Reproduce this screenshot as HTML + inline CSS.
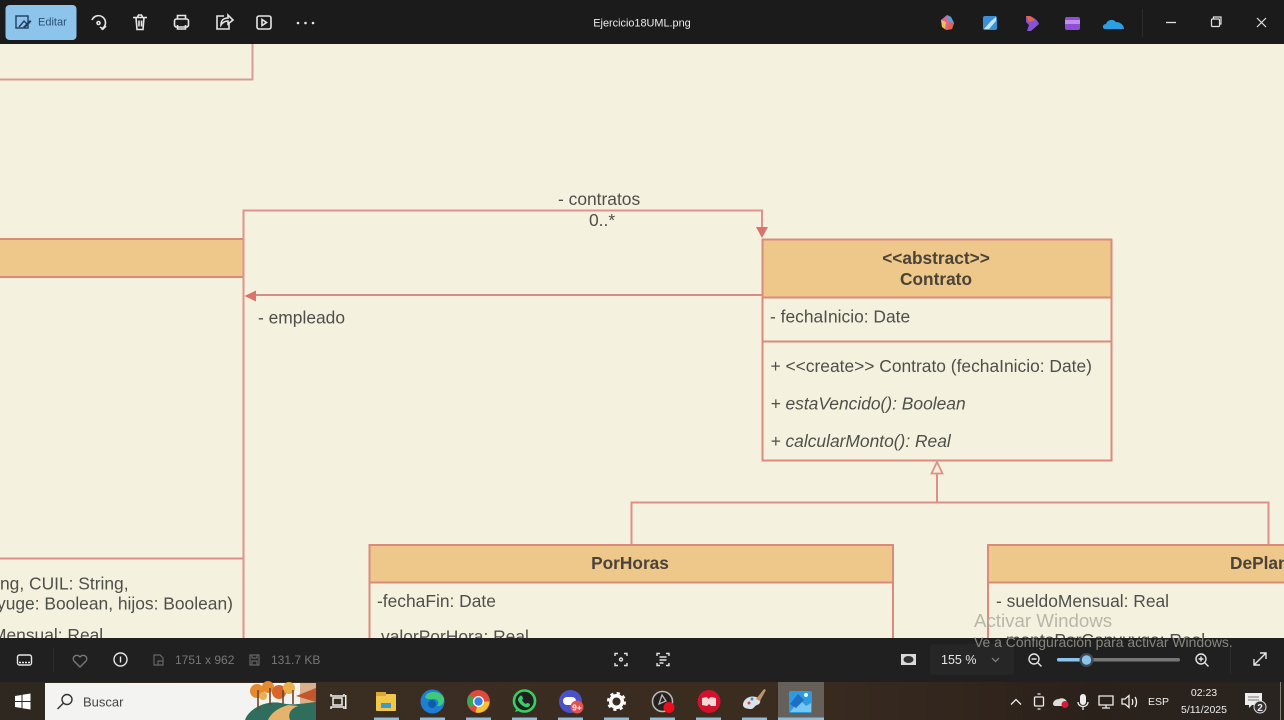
<!DOCTYPE html>
<html lang="es">
<head>
<meta charset="utf-8">
<title>Ejercicio18UML.png</title>
<style>
html,body{margin:0;padding:0;width:1284px;height:720px;overflow:hidden;background:#f4f2df}
svg{display:block;filter:blur(.3px)}
text{font-family:"Liberation Sans",sans-serif}
</style>
</head>
<body>
<svg width="1284" height="720" viewBox="0 0 1284 720" xmlns="http://www.w3.org/2000/svg">
<defs>
<linearGradient id="task" x1="0" x2="1" y1="0" y2="0">
<stop offset="0" stop-color="#2e2820"/><stop offset=".25" stop-color="#3a2d22"/><stop offset=".6" stop-color="#3b2c20"/><stop offset=".85" stop-color="#2b211b"/><stop offset="1" stop-color="#2a2420"/>
</linearGradient>
</defs>

<!-- canvas -->
<rect width="1284" height="720" fill="#f4f2df"/>

<!-- top-left class fragment -->
<path d="M0 79.500H252.500V44" fill="none" stroke="#dd9a92" stroke-width="2"/>

<!-- left class -->
<rect x="0" y="239" width="243.500" height="38" fill="#eec78b"/>
<path d="M0 239H243.500V277H0" fill="none" stroke="#dc8a76" stroke-width="2"/>
<path d="M0 558.500H243.500" fill="none" stroke="#e08f8a" stroke-width="2"/>

<!-- association connectors -->
<path d="M243.500 277V210.500H762V230" fill="none" stroke="#e2928c" stroke-width="2"/>
<path d="M243.500 277V638" fill="none" stroke="#e2928c" stroke-width="2"/>
<path d="M762 295H254" fill="none" stroke="#dc8a84" stroke-width="2"/>
<path d="M756 227H768L762 238Z" fill="#d9736c"/>
<path d="M244.500 296L256 290.500V301.500Z" fill="#d9736c"/>

<!-- Contrato -->
<rect x="762.500" y="239.500" width="349" height="221" fill="#f4f2df" stroke="#db8a7c" stroke-width="2"/>
<rect x="763.500" y="240.500" width="347" height="57" fill="#eec78b"/>
<path d="M762.500 297.500H1111.500M762.500 341.500H1111.500" stroke="#dc8a78" stroke-width="2" fill="none"/>

<!-- generalization -->
<path d="M937 474V502.500M631.500 545V502.500H1268.500V545" fill="none" stroke="#df8f88" stroke-width="2"/>
<path d="M937 462L942.500 473.500H931.500Z" fill="#f4f2df" stroke="#df8f88" stroke-width="1.800"/>

<!-- PorHoras -->
<rect x="369.500" y="545" width="523.500" height="100" fill="#f4f2df" stroke="#dc8a7c" stroke-width="2"/>
<rect x="370.500" y="546" width="521.500" height="36" fill="#eec78b"/>
<path d="M369.500 582.500H893" stroke="#dc8a78" stroke-width="2"/>

<!-- DePlanta -->
<rect x="988" y="545" width="310" height="100" fill="#f4f2df" stroke="#dc8a7c" stroke-width="2"/>
<rect x="989" y="546" width="295" height="36" fill="#eec78b"/>
<path d="M988 582.500H1284" stroke="#dc8a78" stroke-width="2"/>

<!-- diagram text -->
<g font-size="17.400" fill="#4f4f4a">
<text x="558" y="205">- contratos</text>
<text x="589" y="226">0..*</text>
<text x="258" y="323.500">- empleado</text>
<text x="770" y="322.500">- fechaInicio: Date</text>
<text x="770.500" y="372">+ &lt;&lt;create&gt;&gt; Contrato (fechaInicio: Date)</text>
<text x="770.500" y="409.500" font-style="italic">+ estaVencido(): Boolean</text>
<text x="770.500" y="447" font-style="italic">+ calcularMonto(): Real</text>
<text x="0" y="589.500">ng, CUIL: String,</text>
<text x="-3" y="609.500">yuge: Boolean, hijos: Boolean)</text>
<text x="-8" y="641">Mensual: Real</text>
<text x="377" y="607">-fechaFin: Date</text>
<text x="381" y="642.500">valorPorHora: Real</text>
<text x="996" y="607">- sueldoMensual: Real</text>
<text x="1006" y="646">montoPorConyuyge: Real</text>
</g>
<g font-size="17.300" fill="#4a4338" text-anchor="middle" font-weight="bold">
<text x="936" y="264">&lt;&lt;abstract&gt;&gt;</text>
<text x="936" y="285">Contrato</text>
<text x="630" y="569">PorHoras</text>
<text x="1230" y="569" text-anchor="start">DePlanta</text>
</g>

<!-- top bar -->
<rect width="1284" height="44" fill="#1b1b1b"/>
<rect x="5.500" y="5" width="71" height="35" rx="4" fill="#8cc4ec"/>
<g fill="none" stroke="#1f3f5f" stroke-width="1.400">
<rect x="16" y="16" width="12" height="12"/>
<path d="M19 27l5-6 4 4"/>
</g>
<path d="M23 27l7-7 1.500 1.500-7 7z" fill="#1f3f5f"/>
<text x="38" y="25.500" font-size="11" fill="#29516f">Editar</text>
<g fill="none" stroke="#e6e6e6" stroke-width="1.600">
<path d="M92 20a7 7 0 1 1 11 8l-1 2M106 26l-3 3-3-2"/>
<circle cx="98.500" cy="23" r="1.500"/>
<path d="M133 17.500H147M136 17.500l1 12h6l1-12M137.500 17l1-2h3l1 2M139 20.500v6M141.500 20.500v6"/>
<rect x="174.500" y="19" width="14" height="8" rx="2"/>
<path d="M177.500 19v-3.500h8V19M177.500 25v4h8v-4"/>
<path d="M224 16h-7v13h12v-6M221 25c0-5 3-7 7-7v-3l5 5-5 4v-3c-3 0-5 1-7 4z"/>
<rect x="257" y="16" width="14" height="13" rx="2"/>
<path d="M262 19.500l4.500 3-4.500 3z"/>
</g>
<g fill="#e6e6e6"><circle cx="298" cy="23" r="1.300"/><circle cx="305.500" cy="23" r="1.300"/><circle cx="313" cy="23" r="1.300"/></g>
<text x="642" y="26.500" font-size="10.900" fill="#ececec" text-anchor="middle">Ejercicio18UML.png</text>

<!-- top right app icons -->
<path d="M941 20l6-5 4 2 3 6-2 6-6 1-4-3z" fill="#d9679b"/>
<path d="M947 15l4 2 3 6-5-1z" fill="#4aa6dd"/><path d="M941 20l5 2-1 7-3-2z" fill="#e9c34a"/><path d="M949 22l5 1-2 6-5 1z" fill="#e5634c"/>
<rect x="983" y="16" width="14" height="14" rx="2" fill="#3a8fd8"/><path d="M984 29l7-8 5-4v4l-7 8z" fill="#bfe6f8"/>
<path d="M1026 16h4c5 2 8 5 9 8l-8 7h-4l2-6-3-3z" fill="#8653d8"/><path d="M1026 16h4l5 4-6 2z" fill="#e8663f"/>
<rect x="1065" y="17" width="15" height="13" rx="2" fill="#8c4fd6"/><rect x="1065" y="20" width="15" height="4" fill="#c18ef0"/>
<path d="M1105 29c-3 0-3-5 1-5 1-4 7-6 10-2 4 0 8 3 8 7z" fill="#2a9fe3"/>
<rect x="1142" y="9" width="1" height="28" fill="#2a2a2a"/>
<path d="M1166 22.500h10" stroke="#e2e2e2" stroke-width="1.300"/>
<g fill="none" stroke="#e2e2e2" stroke-width="1.200">
<rect x="1211.500" y="19" width="8" height="7.500" rx="1"/><path d="M1213.500 19v-2h7.500v7h-1.500"/>
<path d="M1257 18l9 9M1266 18l-9 9"/>
</g>

<!-- bottom viewer bar -->
<rect y="638" width="1284" height="44" fill="#202020"/>
<g fill="none" stroke="#e6e6e6" stroke-width="1.400">
<rect x="17.500" y="655" width="14" height="10" rx="2"/><path d="M19 662.500h11" stroke-dasharray="2 1"/>
<path d="M80 667l-6-6c-3-4 3-8 6-4 3-4 9 0 6 4z" stroke="#777"/>
<circle cx="120.500" cy="659.500" r="6.500"/><path d="M120.500 656.500v6"/>
</g>
<rect x="53" y="648" width="1" height="24" fill="#2c2c2c"/>
<g fill="none" stroke="#666" stroke-width="1.200">
<path d="M154 655h6l3 3v7h-9zM158 665v-4h5"/>
<rect x="250" y="655" width="9" height="10"/><path d="M252 655v3h5v-3M252 665v-4h5v4"/>
</g>
<text x="175" y="664" font-size="12" fill="#777">1751 x 962</text>
<text x="271" y="664" font-size="12" fill="#777">131.7 KB</text>
<g fill="none" stroke="#e2e2e2" stroke-width="1.400">
<path d="M615 656v-2.500h3M624 653.500h3v2.500M627 663v2.500h-3M618 665.500h-3V663"/>
<circle cx="621" cy="659.500" r="1.500"/>
<path d="M657 656v-2.500h3M666 653.500h3v2.500M669 663v2.500h-3M660 665.500h-3V663M659.500 657h7M659.500 660h7M659.500 663h4"/>
</g>
<rect x="901" y="654" width="15" height="11" fill="#d9d9d9"/>
<ellipse cx="908.500" cy="659.500" rx="5" ry="3.500" fill="#333"/>
<rect x="930" y="644" width="84" height="31" rx="4" fill="#262626"/>
<text x="941" y="664" font-size="12.500" fill="#e6e6e6">155 %</text>
<path d="M992 658l3.500 3.500 3.500-3.500" fill="none" stroke="#888" stroke-width="1.200"/>
<g fill="none" stroke="#e6e6e6" stroke-width="1.400">
<circle cx="1034" cy="659" r="5"/><path d="M1031.500 659h5M1038 663l3.500 3.500"/>
<circle cx="1201" cy="659" r="5"/><path d="M1198.500 659h5M1201 656.500v5M1205 663l3.500 3.500"/>
<path d="M1254 665l12-12M1260 653h6v6M1254 659v6h6"/>
</g>
<rect x="1057" y="658" width="123" height="3.500" rx="1.700" fill="#777"/>
<rect x="1057" y="658" width="30" height="3.500" rx="1.700" fill="#8cc4ec"/>
<circle cx="1086.500" cy="660" r="7" fill="#3b4a55"/>
<circle cx="1086.500" cy="660" r="4.700" fill="#8cc4ec"/>
<rect x="1230" y="646" width="1" height="28" fill="#2c2c2c"/>

<!-- activation watermark -->
<text x="974" y="627" font-size="18.700" fill="#a8a89c" opacity=".8">Activar Windows</text>
<text x="974" y="647" font-size="13.950" fill="#9a9a90" opacity=".85">Ve a Configuración para activar Windows.</text>

<!-- taskbar -->
<rect y="682" width="1284" height="38" fill="url(#task)"/>
<path d="M15 696l6.500-1v6h-6.500zM22.500 694.800l8-1.300v7.500h-8zM15 702h6.500v6l-6.500-1zM22.500 702h8v7.500l-8-1.300z" fill="#fff"/>
<rect x="45" y="683" width="271" height="37" fill="#f3f3f1"/>
<!-- search box autumn artwork -->
<rect x="300" y="683" width="16" height="37" fill="#d9b08a"/>
<path d="M296 696l20-8v14z" fill="#c4552c"/>
<path d="M245 720c4-12 22-20 36-17 12 3 24 0 35-1v18z" fill="#2f6e5d"/>
<path d="M268 720c3-7 10-12 20-15l10 1c-8 3-10 8-8 14z" fill="#e5b46c"/>
<g fill="#e58a2e">
<circle cx="257" cy="691" r="7"/><circle cx="268" cy="687" r="6"/><circle cx="279" cy="692" r="7" fill="#d9662b"/><circle cx="289" cy="688" r="6" fill="#eab04c"/><circle cx="263" cy="696" r="4" fill="#eab04c"/>
</g>
<g stroke="#6b4630" stroke-width="1.600"><path d="M258 690v20M270 688v17M283 690v14M293 690v14"/></g>
<g fill="none" stroke="#333" stroke-width="1.400"><circle cx="67" cy="699.500" r="5"/><path d="M63.500 703l-6 6"/></g>
<text x="83" y="706.500" font-size="13" fill="#444">Buscar</text>
<g fill="none" stroke="#f0f0f0" stroke-width="1.500"><path d="M331 694v2h13v-2M331 709v-2h13v2"/><rect x="333" y="698" width="9" height="7"/></g>
<rect x="345" y="695" width="1.500" height="14" fill="#f0f0f0"/>

<rect x="376" y="694" width="20" height="17" rx="1" fill="#f1c84c"/><rect x="376" y="692" width="10" height="4" fill="#dba838"/><rect x="381" y="703" width="10" height="5" fill="#3d9cc5"/>

<circle cx="432.500" cy="701.500" r="12" fill="#1d7fd4"/>
<path d="M425 697c3-7 15-7 19 1 1 5-3 9-7 8 3-3 1-7-4-7-3 0-6 1-8-2z" fill="#3fc97c"/>
<circle cx="432" cy="704" r="4" fill="#0d5da8"/>

<circle cx="478.500" cy="701.500" r="11.500" fill="#e04a3a"/>
<path d="M478.500 701.500L470 708a11.500 11.500 0 0 1-1-13z" fill="#3da655"/>
<path d="M478.500 701.500h11a11.500 11.500 0 0 1-14 11z" fill="#f4c430"/>
<circle cx="478.500" cy="701.500" r="5.500" fill="#fff"/><circle cx="478.500" cy="701.500" r="4.200" fill="#3e7fe0"/>

<circle cx="524.500" cy="701" r="10.500" fill="#1f1f1f" stroke="#37cf65" stroke-width="2.600"/>
<path d="M515 712l2-5 4 3z" fill="#37cf65"/>
<path d="M520 696c2-2 3 2 3 3l-1 1c1 2 2 3 4 4l1-1c2 0 3 1 3 2-1 2-3 3-5 2-4-2-6-4-7-7 0-2 1-3 2-4z" fill="#37cf65"/>

<circle cx="570.500" cy="701.500" r="11.500" fill="#4b52c9"/>
<rect x="563" y="697" width="13" height="8" rx="4" fill="#fff"/>
<circle cx="577" cy="707" r="6.500" fill="#e0524f"/>
<text x="577" y="710.500" font-size="8.500" font-weight="bold" fill="#fff" text-anchor="middle">9+</text>

<circle cx="616.500" cy="701.500" r="5.800" fill="none" stroke="#fff" stroke-width="3.500"/>
<circle cx="616.500" cy="701.500" r="8.300" fill="none" stroke="#fff" stroke-width="2.500" stroke-dasharray="3.200 3.300"/>

<circle cx="662.500" cy="701.500" r="10" fill="#26211e" stroke="#bbb" stroke-width="1.500"/>
<path d="M662 695l4 6-7 3z" fill="none" stroke="#bbb" stroke-width="1.300"/>
<circle cx="669" cy="707.500" r="5.500" fill="#e8101c"/>

<circle cx="709" cy="701.500" r="11.500" fill="#d3102e"/>
<path d="M702 698l5-1 1 2 3-2 5 1v8h-5l-2-2-2 2-5-1z" fill="#f4d9d9"/>

<path d="M743 705c0-6 7-10 13-8 6 2 5 7 1 8-3 1-3 4-6 4-4 0-8-1-8-4z" fill="#dbe3e8"/>
<path d="M756 699l8-10 2 1-6 11z" fill="#b9936a"/>
<circle cx="749" cy="703" r="1.500" fill="#d04a4a"/><circle cx="752" cy="699" r="1.500" fill="#4a8ad0"/>

<rect x="778" y="682" width="46" height="38" fill="#65605a"/>
<rect x="789" y="691" width="23" height="22" rx="2" fill="#2e9be0"/>
<path d="M790 712l10-12 6 6 5-3v9z" fill="#76c8f2"/><path d="M790 704l8-10 6 6-8 8z" fill="#1c6fc4"/>
<circle cx="806" cy="695" r="2" fill="#e8f6ff"/>

<!-- running app indicators -->
<g fill="#8fbcd8">
<rect x="374" y="717.500" width="25" height="2.500"/><rect x="420" y="717.500" width="25" height="2.500"/>
<rect x="466" y="717.500" width="25" height="2.500"/><rect x="512" y="717.500" width="25" height="2.500"/>
<rect x="558" y="717.500" width="25" height="2.500"/><rect x="604" y="717.500" width="25" height="2.500"/>
<rect x="650" y="717.500" width="25" height="2.500"/><rect x="696" y="717.500" width="25" height="2.500"/>
<rect x="742" y="717.500" width="25" height="2.500"/><rect x="778" y="717.500" width="46" height="2.500"/>
</g>

<!-- system tray -->
<g fill="none" stroke="#eee" stroke-width="1.300">
<path d="M1011 704.500l5-5 5 5"/>
<rect x="1034.500" y="697" width="9" height="9" rx="1"/><path d="M1037.500 694h3M1037.500 709h3"/>
<path d="M1099 696h14v9h-14zM1106 705v3M1102 708h8"/>
<path d="M1122 699h3l4-3.500v12l-4-3.500h-3zM1132 699c1 2 1 4 0 6M1135 697c2 3 2 7 0 10"/>
</g>
<path d="M1053 704c0-3 3-5 6-5 3-2 8 0 8 4 0 2-2 3-4 3h-8c-1 0-2-1-2-2z" fill="#ddd"/>
<circle cx="1065" cy="704.500" r="3.500" fill="#d81b38"/>
<rect x="1080" y="694" width="6" height="11" rx="3" fill="#eee"/>
<path d="M1078 702c0 6 10 6 10 0M1083 707v3" fill="none" stroke="#eee" stroke-width="1.300"/>
<text x="1148" y="705" font-size="10.500" fill="#eee">ESP</text>
<text x="1204" y="696" font-size="10.500" fill="#eee" text-anchor="middle">02:23</text>
<text x="1204" y="713" font-size="10.500" fill="#eee" text-anchor="middle">5/11/2025</text>
<path d="M1245 693h17v12h-10l-3 3v-3h-4z" fill="#eee"/>
<path d="M1248 697h11M1248 700h11" stroke="#777" stroke-width="1"/>
<circle cx="1260" cy="707" r="6" fill="#333" stroke="#ddd" stroke-width="1"/>
<text x="1260" y="711" font-size="10" fill="#eee" text-anchor="middle" font-weight="bold">2</text>
<rect x="1280" y="682" width="1" height="38" fill="#8a8378"/>
</svg>
</body>
</html>
